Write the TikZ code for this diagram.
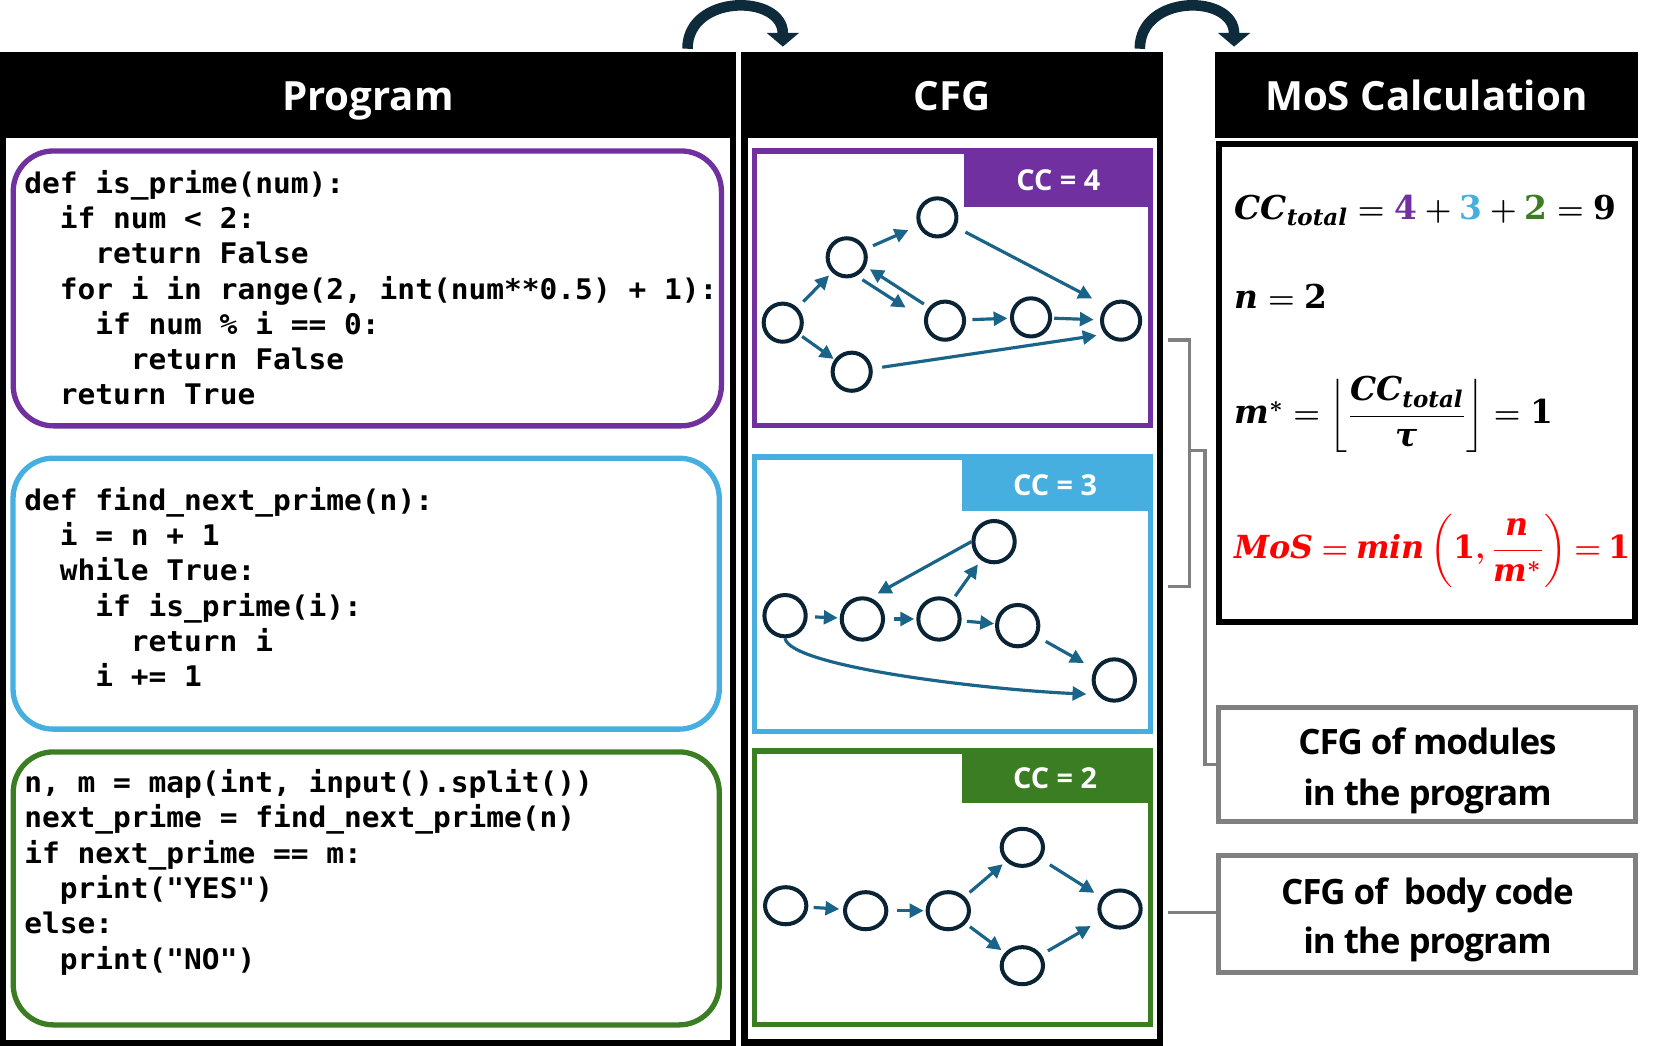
\documentclass[tikz,border=0pt]{standalone}
\usepackage[no-math]{fontspec}
\usepackage{amsmath}
\setmainfont{Open Sans}
\newfontfamily\codefont[FakeStretch=1.04]{DejaVu Sans Mono}
\newfontfamily\notefont[LetterSpace=-3]{Open Sans}
\newfontfamily\eqfont{DejaVu Serif}
\usetikzlibrary{positioning, arrows.meta, calc, shapes.geometric}

\definecolor{modpurple}{HTML}{7030A0}
\definecolor{modblue}{HTML}{47AFE0}
\definecolor{bodygreen}{HTML}{3B7D23}
\definecolor{edgeblue}{HTML}{1A6389}
\definecolor{vtxnavy}{HTML}{0B2435}
\definecolor{hopnavy}{HTML}{0E2B3C}
\definecolor{linkgray}{HTML}{808080}

% formulas in bold
\newcommand{\boldeq}[1]{{\boldmath$#1$}}
\newcommand{\ev}[1]{\text{\eqfont\bfseries\itshape #1}}
\newcommand{\en}[1]{\text{\eqfont\bfseries #1}}

\begin{document}
\begin{tikzpicture}[
    x=0.5pt, y=-0.5pt,
    % titles of the three columns
    headtext/.style={text=white, anchor=base, inner sep=0pt, font=\fontsize{19pt}{22pt}\selectfont\bfseries},
    % code listings
    codebox/.style={draw=#1, line width=2.5pt, rounded corners=19pt},
    codeline/.style={anchor=base west, inner sep=0pt, font=\codefont\bfseries\fontsize{13.4pt}{16pt}\selectfont},
    % control flow graphs
    cfgframe/.style={draw=#1, line width=2.65pt},
    cctext/.style={text=white, anchor=base, inner sep=0pt, font=\fontsize{13.6pt}{16pt}\selectfont\bfseries},
    vtx/.style={circle, draw=vtxnavy, line width=1.9pt, minimum size=18pt, inner sep=0pt},
    edg/.style={-{Triangle[length=6.5pt, width=6.5pt]}, draw=edgeblue, line width=1.5pt, shorten <=3pt, shorten >=2pt},
    hop/.style={-{Triangle[length=6.5pt, width=15pt]}, draw=hopnavy, line width=5pt},
    % formulas and notes
    eqn/.style={anchor=base west, inner sep=0pt, font=\fontsize{15.5pt}{19pt}\selectfont},
    notebox/.style={draw=linkgray, line width=2.35pt, minimum width=196.6pt, inner sep=0pt},
    notetext/.style={anchor=base, inner sep=0pt, font=\notefont\bfseries\fontsize{16.5pt}{20pt}\selectfont},
    link/.style={draw=linkgray, line width=1.5pt}
]

    \useasboundingbox (0,0) rectangle (1568,987);

    % --- FLECHAS ENTRE COLUMNAS ---
    \coordinate (hop1s) at (649,46);
    \coordinate (hop1e) at (739,44);
    \coordinate (hop2s) at (1076,46);
    \coordinate (hop2e) at (1165,44);
    \draw[hop] (hop1s) .. controls (649,-6) and (739,-6) .. (hop1e);
    \draw[hop] (hop2s) .. controls (1076,-6) and (1165,-6) .. (hop2e);

    % --- COLUMNA PROGRAM ---
    \fill (0,49.4) rectangle (694.6,130.6);
    \draw[line width=2.7pt] (2.7,130) -- (2.7,984.3) -- (691.9,984.3) -- (691.9,130);
    \node[headtext] (progtitle) at (347.3,104) {Program};

    \draw[codebox=modpurple] (12.5,142.5) rectangle (681,402);
    \draw[codebox=modblue] (12.3,432.5) rectangle (679,688.3);
    \draw[codebox=bodygreen] (12.5,709.8) rectangle (679,967.5);

    \foreach \ind/\txt [count=\k from 0] in {0/{def is\_prime(num):}, 1/{if num < 2:}, 2/{return False},
        1/{for i in range(2, int(num**0.5) + 1):}, 2/{if num \% i == 0:}, 3/{return False}, 1/{return True}}
        \node[codeline] (isp\k) at ({22.5+33.54*\ind}, {182.5+33.3*\k}) {\txt};

    \foreach \ind/\txt [count=\k from 0] in {0/{def find\_next\_prime(n):}, 1/{i = n + 1}, 1/{while True:},
        2/{if is\_prime(i):}, 3/{return i}, 2/{i += 1}}
        \node[codeline] (fnp\k) at ({22.5+33.54*\ind}, {482+33.2*\k}) {\txt};

    \foreach \ind/\txt [count=\k from 0] in {0/{n, m = map(int, input().split())}, 0/{next\_prime = find\_next\_prime(n)},
        0/{if next\_prime == m:}, 1/{print("YES")}, 0/{else:}, 1/{print("NO")}}
        \node[codeline] (body\k) at ({22.5+33.54*\ind}, {748+33.4*\k}) {\txt};

    % --- COLUMNA CFG ---
    \fill (699.7,49.4) rectangle (1098.2,130.6);
    \draw[line width=3.2pt] (702.9,130) -- (702.9,984) -- (1095,984) -- (1095,130);
    \node[headtext] (cfgtitle) at (899,104) {CFG};

    \draw[cfgframe=modpurple] (712.2,142.6) rectangle (1086.2,401.7);
    \fill[modpurple] (910,140) rectangle (1088.8,195);
    \node[cctext] (cc1) at (999,180) {CC = 4};

    \draw[cfgframe=modblue] (712.2,431.2) rectangle (1086.2,690.4);
    \fill[modblue] (907.8,428.6) rectangle (1088.8,482);
    \node[cctext] (cc2) at (996,467.3) {CC = 3};

    \draw[cfgframe=bodygreen] (712.2,709) rectangle (1086.2,967.2);
    \fill[bodygreen] (907.8,706.4) rectangle (1088.8,758.4);
    \node[cctext] (cc3) at (996,744.2) {CC = 2};

    % grafo de is_prime
    \node[vtx] (g1a) at (738.9,304.6) {};
    \node[vtx] (g1b) at (799.3,242.9) {};
    \node[vtx] (g1c) at (884.9,205.2) {};
    \node[vtx] (g1d) at (892.1,302.7) {};
    \node[vtx] (g1e) at (973.3,299.6) {};
    \node[vtx] (g1f) at (1058.3,302.7) {};
    \node[vtx] (g1g) at (804.0,350.9) {};
    \draw[edg, shorten <=3.9pt] (g1a) -- (g1b);
    \draw[edg, shorten <=3.6pt, shorten >=5pt] (g1b) -- (g1c);
    \draw[edg, shorten <=2pt, shorten >=9pt, transform canvas={shift={(-5.3,8.2)}}] (g1b) -- (g1d);
    \draw[edg, shorten <=2.7pt, shorten >=2.3pt, transform canvas={shift={(1.3,-2)}}] (g1d) -- (g1b);
    \draw[edg, shorten <=5pt, shorten >=7.5pt] (g1c) -- (g1f.135);
    \draw[edg, shorten >=1.2pt] (g1d) -- (g1e);
    \draw[edg, shorten <=1pt, shorten >=3pt] (g1e) -- (g1f);
    \draw[edg, shorten <=1.3pt, shorten >=0.5pt] (g1a) -- (g1g);
    \draw[edg, shorten <=4.6pt, shorten >=4pt] (g1g) -- (g1f.220);

    % grafo de find_next_prime
    \node[vtx, minimum size=19.5pt] (g2a) at (741.1,581.2) {};
    \node[vtx, minimum size=19.5pt] (g2b) at (814.1,584.3) {};
    \node[vtx, minimum size=19.5pt] (g2c) at (886.4,584.3) {};
    \node[vtx, minimum size=19.5pt] (g2d) at (938.4,511.3) {};
    \node[vtx, minimum size=19.5pt] (g2e) at (960.7,590.6) {};
    \node[vtx, minimum size=19.5pt] (g2f) at (1051.9,641.9) {};
    \draw[edg, shorten <=3.5pt, shorten >=1pt] (g2a) -- (g2b);
    \draw[edg, shorten <=4pt, shorten >=1pt] (g2b) -- (g2c);
    \draw[edg, shorten <=2.5pt, shorten >=2.5pt] (g2c) -- (g2d);
    \draw[edg, shorten <=0pt, shorten >=4pt] (g2d.west) -- (g2b.70);
    \draw[edg, shorten <=2.5pt, shorten >=0.5pt] (g2c) -- (g2e);
    \draw[edg, shorten <=4.5pt, shorten >=5.7pt] (g2e) -- (g2f);
    \draw[edg, shorten <=0pt, shorten >=5pt] (g2a.south) .. controls (745.8,629.4) and (929.9,651) .. (g2f.220);

    % grafo del cuerpo
    \node[vtx, ellipse, minimum width=19.5pt, minimum height=17.5pt] (g3a) at (741.7,855.0) {};
    \node[vtx, ellipse, minimum width=19.5pt, minimum height=17.5pt] (g3b) at (817.2,859.7) {};
    \node[vtx, ellipse, minimum width=19.5pt, minimum height=17.5pt] (g3c) at (895.2,859.7) {};
    \node[vtx, ellipse, minimum width=19.5pt, minimum height=17.5pt] (g3d) at (965.1,799.9) {};
    \node[vtx, ellipse, minimum width=19.5pt, minimum height=17.5pt] (g3e) at (965.1,911.6) {};
    \node[vtx, ellipse, minimum width=19.5pt, minimum height=17.5pt] (g3f) at (1057.3,858.1) {};
    \draw[edg, shorten <=2.5pt, shorten >=1.8pt] (g3a) -- (g3b);
    \draw[edg, shorten <=4.3pt, shorten >=1pt] (g3b) -- (g3c);
    \draw[edg, shorten <=3pt, shorten >=2pt] (g3c) -- (g3d);
    \draw[edg, shorten <=2.4pt, shorten >=2pt] (g3c) -- (g3e);
    \draw[edg, shorten <=5pt, shorten >=3.9pt] (g3d) -- (g3f);
    \draw[edg, shorten <=3.5pt, shorten >=5.6pt] (g3e) -- (g3f);

    % --- COLUMNA MoS ---
    \fill (1147,49.4) rectangle (1546,130.6);
    \node[headtext] (mostitle) at (1346.5,104) {MoS Calculation};
    \draw[line width=2.85pt] (1150.8,135.6) rectangle (1543.2,587.2);

    \node[eqn] (eqcc) at (1165,207) {\boldeq{\ev{CC}_{\ev{total}} = {\color{modpurple}\en{4}} + {\color{modblue}\en{3}} + {\color{bodygreen}\en{2}} = \en{9}}};
    \node[eqn] (eqn) at (1165,291) {\boldeq{\ev{n} = \en{2}}};
    \node[eqn] (eqm) at (1165,400) {\boldeq{\ev{m}^{*} = \left\lfloor \dfrac{\ev{CC}_{\ev{total}}}{\ev{τ}} \right\rfloor = \en{1}}};
    \node[eqn, text=red, font=\fontsize{15pt}{19pt}\selectfont] (eqmos) at (1165,527)
        {\thickmuskip=4mu plus 2mu\boldeq{\ev{MoS} = \ev{min}\left(\en{1},\dfrac{\ev{n}}{\ev{m}^{*}}\right) = \en{1}}};

    % --- NOTAS Y CONECTORES GRISES ---
    \node[notebox, minimum height=53.8pt] (modbox) at (1347,721.7) {};
    \node[notetext] (modtxt1) at (1347.5,712.7) {CFG of modules};
    \node[notetext] (modtxt2) at (1347.5,760) {in the program};

    \node[notebox, minimum height=55pt] (bodybox) at (1347,863) {};
    \node[notetext] (bodytxt1) at (1347.5,854.3) {CFG of~ body code};
    \node[notetext] (bodytxt2) at (1347.5,900) {in the program};

    \coordinate (brtop) at (1103,321);
    \coordinate (brbot) at (1103,554);
    \coordinate (brmid) at (1123,425);
    \coordinate (bodylink) at (1103,861.6);
    \draw[link] (brtop) -- ++(20,0) |- (brbot);
    \draw[link] (brmid) -- ++(14.5,0) |- (modbox.west);
    \draw[link] (bodylink) -- (bodylink -| bodybox.west);

\end{tikzpicture}
\end{document}
